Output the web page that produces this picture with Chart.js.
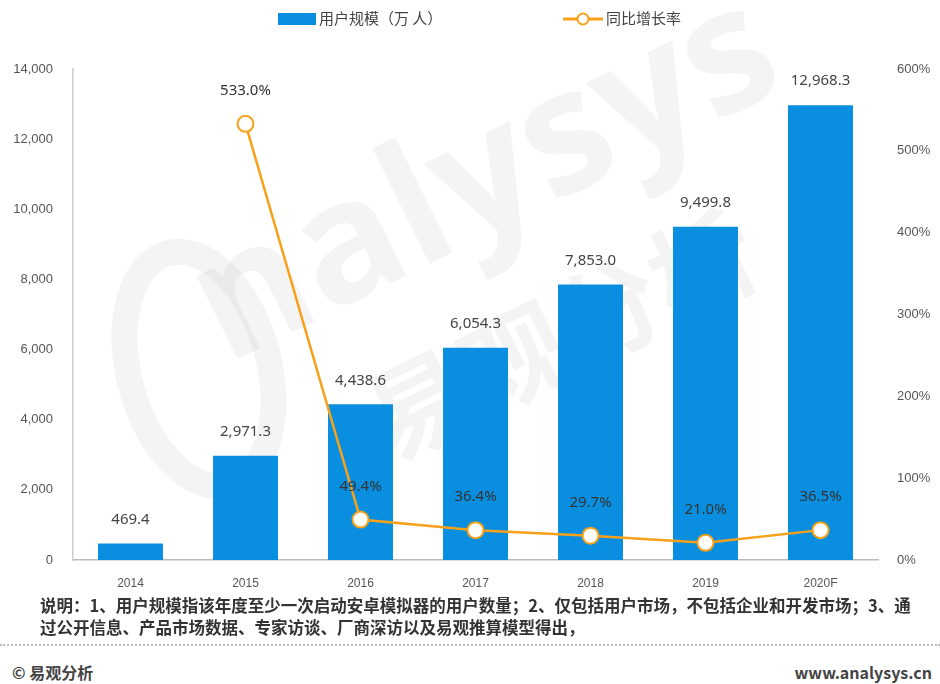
<!DOCTYPE html>
<html>
<head>
<meta charset="utf-8">
<script src="https://cdn.jsdelivr.net/npm/chart.js@4.4.0/dist/chart.umd.min.js"></script>
<style>
  body { margin: 0; background: #fff; font-family: "Noto Sans", "Noto Sans CJK SC", sans-serif; }
  #wrap { position: relative; width: 940px; height: 684px; }
  #chartBox { position: absolute; left: 0; top: 0; width: 940px; height: 595px; }
  .legend { position: absolute; top: 7px; font-size: 15px; color: #444; font-family: "Noto Sans CJK SC", sans-serif; white-space: nowrap; }
  .note { position: absolute; left: 40px; top: 594px; width: 880px; font-size: 16.5px; line-height: 22px; color: #333; font-weight: bold; font-family: "Noto Sans CJK SC", sans-serif; }
  .dots { position: absolute; left: 0; top: 644px; width: 940px; border-top: 2px dotted #bbb; }
  .foot { position: absolute; top: 660px; font-size: 16px; color: #444; font-weight: bold; font-family: "Noto Sans CJK SC", sans-serif; }
</style>
</head>
<body>
<div id="wrap">
  <div id="chartBox"><canvas id="mainChart"></canvas></div>
  <div class="legend" style="left:278px;"><span style="display:inline-block;width:38px;height:12px;background:#0A8FE0;vertical-align:-1px;margin-right:3px;"></span>用户规模（万 人）</div>
  <div class="legend" style="left:563px;"><canvas id="lineKey" width="40" height="16" style="vertical-align:-3px;margin-right:3px;"></canvas>同比增长率</div>
  <div class="note">说明：1、用户规模指该年度至少一次启动安卓模拟器的用户数量；2、仅包括用户市场，不包括企业和开发市场；3、通过公开信息、产品市场数据、专家访谈、厂商深访以及易观推算模型得出，</div>
  <div class="dots"></div>
  <div class="foot" style="left:12px;">© 易观分析</div>
  <div class="foot" style="right:8px;">www.analysys.cn</div>
</div>
<script>
// data
const years = ['2014', '2015', '2016', '2017', '2018', '2019', '2020F'];
const users = [469.4, 2971.3, 4438.6, 6054.3, 7853.0, 9499.8, 12968.3];
const growth = [null, 533.0, 49.4, 36.4, 29.7, 21.0, 36.5];

const BLUE = '#0A8FE0';
const ORANGE = '#F7A11B';

// small key for the line legend
(function () {
    const k = document.getElementById('lineKey').getContext('2d');
    k.strokeStyle = ORANGE;
    k.lineWidth = 3;
    k.beginPath(); k.moveTo(0, 8); k.lineTo(40, 8); k.stroke();
    k.lineWidth = 2;
    k.fillStyle = '#fff';
    k.beginPath(); k.arc(20, 8, 5.5, 0, Math.PI * 2); k.fill(); k.stroke();
})();

function fmt(v) {
    return v.toLocaleString('en-US', { minimumFractionDigits: 1, maximumFractionDigits: 1 });
}

const watermark = {
    id: 'watermark',
    beforeDatasetsDraw(chart) {
        const ctx = chart.ctx;
        ctx.save();
        ctx.fillStyle = 'rgba(0,0,0,0.045)';
        ctx.strokeStyle = 'rgba(0,0,0,0.045)';
        ctx.translate(450, 200);
        ctx.rotate(-0.46);
        ctx.lineWidth = 26;
        ctx.beginPath();
        ctx.ellipse(-300, 40, 70, 120, 0.2, 0, Math.PI * 2);
        ctx.stroke();
        ctx.font = 'bold 170px "Open Sans", sans-serif';
        ctx.textAlign = 'center';
        ctx.textBaseline = 'middle';
        ctx.fillText('nalysys', 40, 0);
        ctx.font = 'bold 105px "Noto Sans CJK SC", sans-serif';
        ctx.fillText('易观分析', 40, 170);
        ctx.restore();
    }
};

const valueLabels = {
    id: 'valueLabels',
    afterDatasetsDraw(chart) {
        const ctx = chart.ctx;
        ctx.save();
        ctx.font = '15px "Noto Sans", sans-serif';
        ctx.textAlign = 'center';
        ctx.textBaseline = 'middle';
        chart.data.datasets.forEach((ds, di) => {
            const meta = chart.getDatasetMeta(di);
            meta.data.forEach((el, i) => {
                const v = ds.data[i];
                if (v === null) return;
                if (ds.type === 'bar') {
                    ctx.fillStyle = '#444';
                    ctx.fillText(fmt(v), el.x, el.y - 24);
                } else {
                    ctx.fillStyle = '#333';
                    ctx.fillText(v.toFixed(1) + '%', el.x, el.y - 33);
                }
            });
        });
        ctx.restore();
    }
};

const ctx = document.getElementById('mainChart');
new Chart(ctx, {
    data: {
        labels: years,
        datasets: [
            {
                type: 'line',
                label: '同比增长率',
                data: growth,
                yAxisID: 'y1',
                borderColor: ORANGE,
                borderWidth: 2.5,
                tension: 0,
                pointRadius: 8,
                pointBorderWidth: 2,
                pointBackgroundColor: '#fff',
                pointBorderColor: ORANGE,
                order: 0
            },
            {
                type: 'bar',
                label: '用户规模（万 人）',
                data: users,
                yAxisID: 'y',
                backgroundColor: BLUE,
                categoryPercentage: 1,
                barPercentage: 0.565,
                order: 1
            }
        ]
    },
    options: {
        responsive: true,
        maintainAspectRatio: false,
        animation: false,
        layout: { padding: { top: 69, left: 0, right: 0, bottom: 0 } },
        plugins: { legend: { display: false }, tooltip: { enabled: false } },
        scales: {
            x: {
                grid: { display: false, drawTicks: false },
                border: { display: true, color: '#bbb', width: 1.5 },
                ticks: { color: '#555', font: { size: 12 }, padding: 16 },
                afterFit: s => { s.height = 35; }
            },
            y: {
                position: 'left',
                min: 0,
                max: 14000,
                grid: { display: false, drawTicks: false },
                border: { display: true, color: '#ccc', width: 1.5 },
                ticks: {
                    stepSize: 2000,
                    color: '#555',
                    font: { size: 13 },
                    padding: 20,
                    callback: v => v.toLocaleString('en-US')
                },
                afterFit: s => { s.width = 73; }
            },
            y1: {
                position: 'right',
                min: 0,
                max: 600,
                grid: { display: false, drawTicks: false },
                border: { display: false },
                ticks: {
                    stepSize: 100,
                    color: '#555',
                    font: { size: 13 },
                    padding: 19,
                    callback: v => v + '%'
                },
                afterFit: s => { s.width = 62; }
            }
        }
    },
    plugins: [watermark, valueLabels]
});
</script>
</body>
</html>
